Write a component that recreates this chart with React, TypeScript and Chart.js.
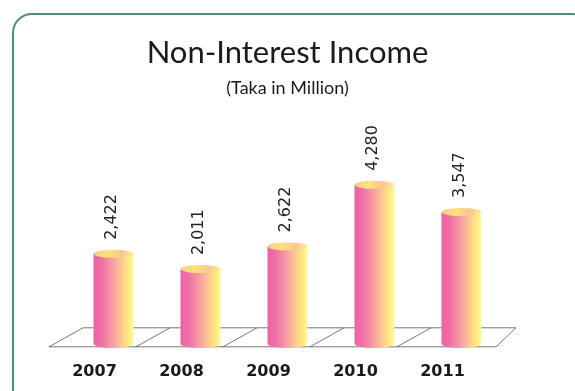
import React, { useEffect, useRef } from "react";
import { Chart, registerables } from "chart.js";

Chart.register(...registerables);

const years = ["2007", "2008", "2009", "2010", "2011"];
const income = [2422, 2011, 2622, 4280, 3547];
const valueLabels = ["2,422", "2,011", "2,622", "4,280", "3,547"];
const titleText = "Non-Interest Income";
const subtitleText = "(Taka in Million)";

function bodyGradient(ctx: CanvasRenderingContext2D, left: number, w: number) {
  const g = ctx.createLinearGradient(left, 0, left + w, 0);
  g.addColorStop(0, "#ee62a6");
  g.addColorStop(0.2, "#f06ea8");
  g.addColorStop(0.5, "#f7a2a2");
  g.addColorStop(0.78, "#fdd88a");
  g.addColorStop(0.92, "#fff27c");
  g.addColorStop(1, "#fff6b0");
  return g;
}

const cylinderPlugin = {
  id: "cylinders",
  beforeDatasetsDraw(chart: any) {
    const ctx = chart.ctx;
    const x = chart.scales.x;
    const y = chart.scales.y;
    const base = y.getPixelForValue(0);
    const front = base + 3;
    const back = base - 16;
    ctx.save();
    ctx.strokeStyle = "#555";
    ctx.lineWidth = 0.8;
    const n = years.length;
    const fx = (i: number) => x.getPixelForValue(i - 0.5) - 21;
    const bx = (i: number) => x.getPixelForValue(i - 0.5) + 13;
    ctx.beginPath();
    ctx.moveTo(bx(0), back);
    ctx.lineTo(bx(n) - 2, back);
    ctx.stroke();
    ctx.beginPath();
    ctx.moveTo(fx(0), front);
    ctx.lineTo(fx(n) + 12, front);
    ctx.stroke();
    for (let i = 0; i <= n; i++) {
      ctx.beginPath();
      ctx.moveTo(i === n ? fx(i) + 12 : fx(i), front);
      ctx.lineTo(i === n ? bx(i) - 2 : bx(i), back);
      ctx.stroke();
    }
    ctx.restore();
  },
  afterDatasetsDraw(chart: any) {
    const ctx = chart.ctx;
    const meta = chart.getDatasetMeta(0);
    ctx.save();
    meta.data.forEach((bar: any, i: number) => {
      const w = bar.width;
      const left = bar.x - w / 2;
      const ry = 4;
      ctx.fillStyle = bodyGradient(ctx, left, w);
      ctx.beginPath();
      ctx.moveTo(left, bar.y);
      ctx.lineTo(left, bar.base);
      ctx.ellipse(bar.x, bar.base, w / 2, ry, 0, Math.PI, 0, true);
      ctx.lineTo(left + w, bar.y);
      ctx.closePath();
      ctx.fill();
      const gt = ctx.createLinearGradient(left, bar.y - ry, left + w, bar.y + ry);
      gt.addColorStop(0, "#f9c890");
      gt.addColorStop(0.35, "#fde27a");
      gt.addColorStop(0.7, "#f8c690");
      gt.addColorStop(1, "#fff08a");
      ctx.fillStyle = gt;
      ctx.beginPath();
      ctx.ellipse(bar.x, bar.y, w / 2, ry, 0, 0, Math.PI * 2);
      ctx.fill();
      ctx.save();
      ctx.translate(bar.x - 2, bar.y - ry - 10);
      ctx.rotate(-Math.PI / 2);
      ctx.fillStyle = "#222";
      ctx.font = "16px 'DejaVu Sans'";
      ctx.textAlign = "left";
      ctx.textBaseline = "middle";
      ctx.fillText(valueLabels[i], 0, 0);
      ctx.restore();
    });
    ctx.restore();
  },
};

export default function App() {
  const ref = useRef<HTMLCanvasElement>(null);
  useEffect(() => {
    const canvas = ref.current!;
    const chart = new Chart(canvas, {
      type: "bar",
      data: {
        labels: years,
        datasets: [
          {
            data: income,
            backgroundColor: "rgba(0,0,0,0)",
            borderWidth: 0,
            barPercentage: 0.46,
            categoryPercentage: 1,
          },
        ],
      },
      options: {
        animation: false,
        responsive: false,
        maintainAspectRatio: false,
        layout: { padding: { left: 70, right: 19, top: 0, bottom: 0 } },
        plugins: {
          legend: { display: false },
          tooltip: { enabled: false },
          title: {
            display: true,
            text: titleText,
            color: "#1a1a1a",
            font: { family: "Lato", size: 31, weight: "normal" },
            padding: { top: 34, bottom: 0 },
          },
          subtitle: {
            display: true,
            text: subtitleText,
            color: "#1a1a1a",
            font: { family: "Lato", size: 18, weight: "normal" },
            padding: { top: 6, bottom: 63 },
          },
        },
        scales: {
          x: {
            grid: { display: false, drawTicks: false },
            border: { display: false },
            ticks: {
              color: "#1a1a1a",
              font: { family: "DejaVu Sans", size: 16, weight: "bold" },
              labelOffset: -19,
              padding: 18,
              maxRotation: 0,
            },
          },
          y: {
            display: false,
            min: 0,
            max: 4900,
          },
        },
      },
      plugins: [cylinderPlugin],
    });
    return () => chart.destroy();
  }, []);
  return (
    <div style={{ position: "fixed", left: 0, top: 0, width: 575, height: 391, background: "#fff", overflow: "hidden" }}>
      <div
        style={{
          position: "absolute",
          left: 12,
          top: 13,
          width: 580,
          height: 400,
          border: "2px solid #4f8f7e",
          borderRadius: 20,
          boxSizing: "border-box",
        }}
      />
      <canvas ref={ref} width={524} height={399} style={{ position: "absolute", left: 0, top: 0 }} />
    </div>
  );
}
